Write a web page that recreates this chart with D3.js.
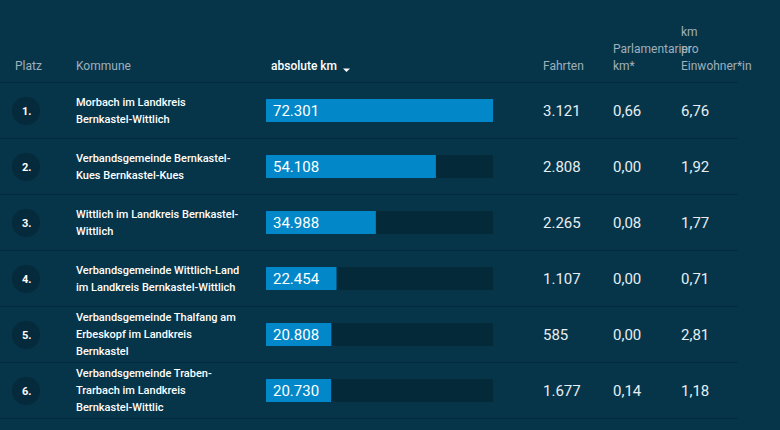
<!DOCTYPE html>
<html lang="de">
<head>
<meta charset="utf-8">
<title>Kommunen nach absoluten km</title>
<script src="https://d3js.org/d3.v7.min.js"></script>
<style>
  html, body { margin: 0; padding: 0; background: #06354a; }
  svg { display: block; font-family: Roboto, "Noto Sans", sans-serif; }
  .head { fill: #9fb0ba; font-size: 12px; }
  .head.active { fill: #ffffff; font-weight: 500; }
  .name { fill: #ffffff; font-size: 11px; font-weight: 500; }
  .num { fill: #e8eef1; font-size: 15px; }
  .barlabel { fill: #ffffff; font-size: 15px; }
  .rank { fill: #ffffff; font-size: 11px; font-weight: 700; }
</style>
</head>
<body>
<div id="chart"></div>
<script>
const ranks = ["1.", "2.", "3.", "4.", "5.", "6."];
const kommunen = [
  ["Morbach im Landkreis", "Bernkastel-Wittlich"],
  ["Verbandsgemeinde Bernkastel-", "Kues Bernkastel-Kues"],
  ["Wittlich im Landkreis Bernkastel-", "Wittlich"],
  ["Verbandsgemeinde Wittlich-Land", "im Landkreis Bernkastel-Wittlich"],
  ["Verbandsgemeinde Thalfang am", "Erbeskopf im Landkreis", "Bernkastel"],
  ["Verbandsgemeinde Traben-", "Trarbach im Landkreis", "Bernkastel-Wittlic"]
];
const absoluteKm = [72301, 54108, 34988, 22454, 20808, 20730];
const fahrten = [3121, 2808, 2265, 1107, 585, 1677];
const parlKm = [0.66, 0.00, 0.08, 0.00, 0.00, 0.14];
const kmProEinw = [6.76, 1.92, 1.77, 0.71, 2.81, 1.18];

const width = 780, height = 430;
const headerBottom = 82, rowH = 56;

const de = d3.formatLocale({ decimal: ",", thousands: ".", grouping: [3], currency: ["", "€"] });
const fmtInt = de.format(",d");
const fmtDec = de.format(",.2f");

const svg = d3.select("#chart").append("svg")
  .attr("width", width).attr("height", height);

// header
const heads = [
  { x: 15, lines: ["Platz"] },
  { x: 76, lines: ["Kommune"] },
  { x: 271, lines: ["absolute km"], active: true },
  { x: 543, lines: ["Fahrten"] },
  { x: 613, lines: ["Parlamentarier", "km*"] },
  { x: 681, lines: ["km", "pro", "Einwohner*in"] }
];
heads.forEach(h => {
  const n = h.lines.length;
  h.lines.forEach((t, i) => {
    svg.append("text")
      .attr("class", "head" + (h.active ? " active" : ""))
      .attr("x", h.x)
      .attr("y", 70 - (n - 1 - i) * 17)
      .text(t);
  });
});
// sort arrow
svg.append("path")
  .attr("d", "M343,68.5 L350,68.5 L346.5,72 Z")
  .attr("fill", "#ffffff");

const y = d3.scaleBand()
  .domain(d3.range(ranks.length))
  .range([headerBottom, headerBottom + rowH * ranks.length]);

const x = d3.scaleLinear()
  .domain([0, d3.max(absoluteKm)])
  .range([0, 227]);

// row separators
svg.selectAll("line.sep")
  .data(d3.range(ranks.length + 1))
  .join("line")
  .attr("x1", 0).attr("x2", 738)
  .attr("y1", d => headerBottom + d * rowH + 0.5)
  .attr("y2", d => headerBottom + d * rowH + 0.5)
  .attr("stroke", "#042b3c").attr("stroke-width", 1);

const rows = svg.selectAll("g.row")
  .data(d3.range(ranks.length))
  .join("g")
  .attr("transform", i => `translate(0,${y(i) + y.bandwidth() / 2})`);

rows.append("circle")
  .attr("cx", 26).attr("cy", 1).attr("r", 14)
  .attr("fill", "#042a3b");
rows.append("text")
  .attr("class", "rank")
  .attr("x", 22).attr("y", 5)
  .text(i => ranks[i]);

rows.each(function (i) {
  const g = d3.select(this);
  const lines = kommunen[i];
  const lh = 17;
  const y0 = -((lines.length - 1) * lh) / 2 + 4;
  lines.forEach((t, k) => {
    g.append("text").attr("class", "name")
      .attr("x", 76).attr("y", y0 + k * lh).text(t);
  });
});

// bar track and bar
rows.append("rect")
  .attr("x", 266).attr("y", -11).attr("height", 23)
  .attr("width", x.range()[1])
  .attr("fill", "#042a3a");
rows.append("rect")
  .attr("x", 266).attr("y", -11).attr("height", 23)
  .attr("width", i => x(absoluteKm[i]))
  .attr("fill", "#0288c8");
rows.append("text")
  .attr("class", "barlabel")
  .attr("x", 273).attr("y", 6)
  .text(i => fmtInt(absoluteKm[i]));

rows.append("text").attr("class", "num")
  .attr("x", 543).attr("y", 6).text(i => fmtInt(fahrten[i]));
rows.append("text").attr("class", "num")
  .attr("x", 613).attr("y", 6).text(i => fmtDec(parlKm[i]));
rows.append("text").attr("class", "num")
  .attr("x", 681).attr("y", 6).text(i => fmtDec(kmProEinw[i]));
</script>
</body>
</html>
